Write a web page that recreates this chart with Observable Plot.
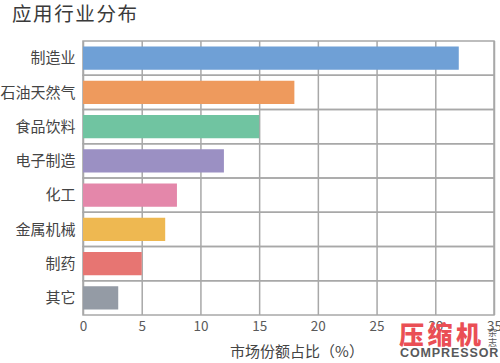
<!DOCTYPE html>
<html>
<head>
<meta charset="utf-8">
<script src="https://cdn.jsdelivr.net/npm/d3@7"></script>
<script src="https://cdn.jsdelivr.net/npm/@observablehq/plot@0.6"></script>
<style>
  html, body { margin: 0; padding: 0; background: #fff; }
  #wrap { position: relative; width: 500px; height: 363px; overflow: hidden; font-family: "Noto Sans CJK SC", sans-serif; }
  #title { height: 30px; font-size: 19.5px; letter-spacing: 1.6px; color: #3a3a3a; padding-left: 12px; padding-top: 1px; line-height: 24px; box-sizing: border-box; }
  .logo { position: absolute; font-family: "Noto Sans CJK SC", sans-serif; white-space: nowrap; }
</style>
</head>
<body>
<div id="wrap">
  <div id="title">应用行业分布</div>
  <div id="chart"></div>
  <div class="logo" style="left:399px; top:318px; font-size:25px; font-weight:900; color:#ea4f55; letter-spacing:3.5px; line-height:30px;">压缩机</div>
  <div class="logo" style="left:400px; top:346px; font-family:'Liberation Sans',Arial,sans-serif; font-size:12.5px; font-weight:bold; color:#58595b; letter-spacing:0.9px; line-height:15px;">COMPRESSOR</div>
  <div class="logo" style="left:488px; top:328px; font-size:9px; color:#58595b; line-height:10px; width:10px; white-space: normal;">杂<br>志</div>
</div>
<script>
const categories = ["制造业", "石油天然气", "食品饮料", "电子制造", "化工", "金属机械", "制药", "其它"];
const values = [32, 18, 15, 12, 8, 7, 5, 3];
const colors = ["#6fa0d6", "#ee9a5d", "#70c4a1", "#9b90c3", "#e487aa", "#eeb851", "#e77572", "#949ba5"];
const xTicks = [0, 5, 10, 15, 20, 25, 30, 35];
const xLabel = "市场份额占比（%）";

const data = categories.map((name, i) => ({name, value: values[i], color: colors[i]}));
const gridColor = "#a8a8a8";

const chart = Plot.plot({
  width: 500,
  height: 333,
  marginTop: 11,
  marginBottom: 48,
  marginLeft: 83,
  marginRight: 6,
  style: {fontFamily: "'Noto Sans CJK SC', sans-serif", background: "transparent", overflow: "visible"},
  x: {domain: [xTicks[0], xTicks[xTicks.length - 1]]},
  y: {domain: categories, padding: 0, round: false},
  marks: [
    Plot.barX(data, {x1: xTicks[0], x2: xTicks[xTicks.length - 1], y: "name", fill: "none", stroke: gridColor, strokeWidth: 1.5}),
    Plot.ruleX(xTicks, {stroke: gridColor, strokeWidth: 1.5}),
    Plot.barX(data, {x: "value", y: "name", fill: d => d.color, insetTop: 5.5, insetBottom: 5.5}),
    Plot.axisY({tickSize: 0, tickPadding: 8, label: null, fontSize: 15, fill: "#444"}),
    Plot.axisX({ticks: xTicks, tickSize: 0, tickPadding: 6, label: null, fontSize: 13.5, fill: "#5a5a5a", tickFormat: d => String(d)}),
    Plot.text([xLabel], {frameAnchor: "bottom", dy: 41, dx: 8, fontSize: 15, fill: "#444", text: d => d})
  ]
});
document.getElementById("chart").appendChild(chart);
</script>
</body>
</html>
